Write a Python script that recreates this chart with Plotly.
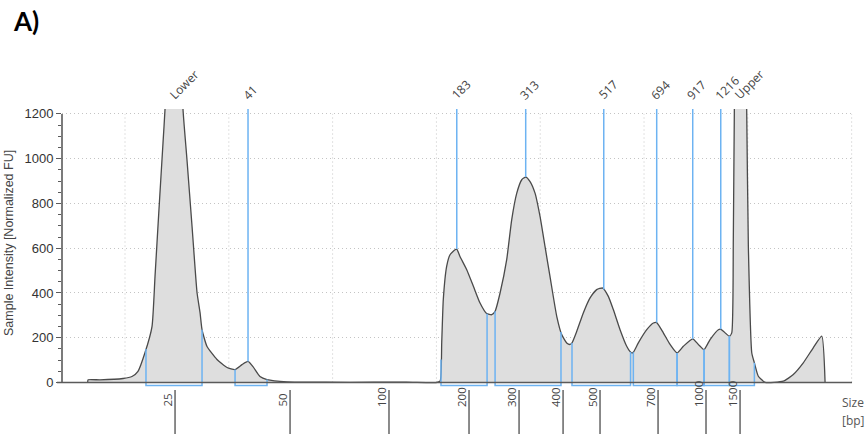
import numpy as np
import plotly.graph_objects as go

# ---- Electropherogram trace: migration distance (run units) vs. normalized fluorescence
migration = [
    6.40, 6.45, 7.59, 9.81, 10.67, 11.25, 11.93, 12.60, 12.89, 13.27, 13.66, 13.85,
    14.24, 14.72, 15.20, 15.59, 15.97, 16.46, 16.94, 17.23, 17.42, 17.90, 18.86, 19.83,
    20.60, 21.27, 21.85, 22.33, 23.00, 23.68, 25.61, 26.86, 31.68, 36.49, 37.74, 39.96,
    40.35, 40.51, 40.66, 40.99, 41.31, 41.79, 41.96, 42.27, 42.92, 43.56, 44.20, 44.84,
    45.33, 45.65, 46.13, 46.77, 47.25, 47.74, 48.22, 48.60, 49.02, 49.50, 49.98, 50.46,
    50.94, 51.59, 52.07, 52.55, 52.87, 53.06, 53.52, 54.15, 54.80, 55.44, 56.02, 56.56,
    57.04, 57.69, 58.33, 58.72, 58.85, 58.97, 59.45, 60.26, 60.90, 61.22, 61.86, 62.51,
    63.18, 63.79, 64.69, 65.23, 65.78, 66.36, 67.16, 67.39, 67.64, 68.22, 68.45, 68.60,
    68.70, 68.96, 69.25, 69.63, 69.89, 70.05, 70.38, 70.63, 71.01, 71.66, 73.42, 74.38,
    75.34, 76.30, 77.12, 77.44,
]
intensity = [
    0, 12, 12, 18, 27, 50, 134, 250, 473, 772, 1070, 1218,
    1700, 2100, 1700, 1218, 995, 696, 401, 312, 236, 161, 103, 67,
    58, 80, 94, 71, 27, 13, 3, 2, 1, 2, 1, 0,
    6, 178, 370, 520, 571, 593, 596, 563, 504, 430, 355, 308,
    303, 318, 400, 549, 727, 846, 906, 918, 898, 846, 742, 608,
    474, 296, 214, 177, 170, 177, 229, 311, 378, 415, 422, 385,
    326, 236, 162, 135, 132, 135, 177, 236, 266, 268, 222, 170,
    132, 162, 195, 170, 147, 192, 236, 238, 229, 207, 222, 638,
    1218, 2000, 2600, 2000, 1218, 608, 132, 88, 28, 1, 6, 36,
    88, 155, 207, 0,
]

# ---- Size ladder (bp) and the migration position of each ladder band
ladder_bp = [25, 50, 100, 200, 300, 400, 500, 700, 1000, 1500]
ladder_pos = [14.82, 25.90, 35.43, 43.14, 47.96, 52.20, 55.76, 61.35, 65.97, 69.25]

# ---- Called peaks: label and migration position
peak_labels = ["Lower", "41", "183", "313", "517", "694", "917", "1216", "Upper"]
peak_pos = [14.82, 21.85, 41.96, 48.60, 56.12, 61.22, 64.69, 67.39, 69.25]

# ---- Integration regions (start / end migration position)
region_start = [12.02, 20.60, 40.44, 45.65, 53.06, 58.97, 63.18, 65.78, 68.22]
region_end = [17.42, 23.68, 44.88, 52.00, 58.70, 63.18, 65.78, 68.22, 70.63]

# ---- Y axis ticks
y_ticks = [0, 200, 400, 600, 800, 1000, 1200]
grid_x = [10, 20, 30, 40, 50, 60, 70, 80]

# ---- Page geometry
W, H = 865, 434
M_L, M_R, M_T, M_B = 62, 12, 109, 47
X_RANGE = [3.93, 80.13]
Y_RANGE = [-20, 1222]
Y_TOP = Y_RANGE[1]
BRACKET_Y = -13

BLUE = "#6db3f2"
AXIS = "#5a5a5a"
GRID = "#c4c4c4"
TEXT = "#444444"
DOTS = "1px,3px"


def px_x(px):
    return (px - M_L) / (W - M_L - M_R)


def px_y(py):
    return (H - M_B - py) / (H - M_T - M_B)


mig = np.array(migration, dtype=float)
inten = np.array(intensity, dtype=float)


def level(pos):
    return float(np.interp(pos, mig, inten))


fig = go.Figure()

# filled electropherogram
fig.add_trace(go.Scatter(
    x=migration, y=intensity, mode="lines",
    line=dict(color="#4a4a4a", width=1.3, shape="spline", smoothing=0.5),
    fill="tozeroy", fillcolor="#dedede",
    hoverinfo="skip", showlegend=False,
))

# peak marker lines (from top of plot down to the trace)
mx, my = [], []
for p in peak_pos:
    mx += [p, p, None]
    my += [Y_TOP, min(level(p), Y_TOP), None]
fig.add_trace(go.Scatter(
    x=mx, y=my, mode="lines", line=dict(color=BLUE, width=1.5),
    hoverinfo="skip", showlegend=False,
))

# integration region brackets
bx, by = [], []
for s, e in zip(region_start, region_end):
    bx += [s, s, e, e, None]
    by += [min(level(s), Y_TOP), BRACKET_Y, BRACKET_Y, min(level(e), Y_TOP), None]
fig.add_trace(go.Scatter(
    x=bx, y=by, mode="lines", line=dict(color=BLUE, width=1.5),
    hoverinfo="skip", showlegend=False,
))

shapes = []
# vertical dotted grid
for gx in grid_x:
    shapes.append(dict(type="line", xref="x", yref="y", x0=gx, x1=gx, y0=0, y1=1200,
                       line=dict(color=GRID, width=1, dash=DOTS), layer="below"))
# axis lines
shapes.append(dict(type="line", xref="paper", yref="y", x0=px_x(57), x1=px_x(852), y0=0, y1=0,
                   line=dict(color=AXIS, width=1.6)))
shapes.append(dict(type="line", xref="paper", yref="y", x0=0, x1=0, y0=0, y1=1200,
                   line=dict(color=AXIS, width=1.6)))
# ladder tick marks hanging below the axis
for lp in ladder_pos:
    shapes.append(dict(type="line", xref="x", yref="paper", x0=lp, x1=lp,
                       y0=px_y(390), y1=px_y(436), line=dict(color=AXIS, width=1.4)))

annotations = []
# ladder size labels
for lp, bp in zip(ladder_pos, ladder_bp):
    annotations.append(dict(x=lp, xref="x", y=px_y(409), yref="paper", text=str(bp),
                            textangle=-90, xanchor="center", yanchor="bottom", xshift=-8,
                            showarrow=False, font=dict(family="Open Sans", size=11.5, color=TEXT)))
# peak labels
for p, lab in zip(peak_pos, peak_labels):
    annotations.append(dict(x=p, xref="x", y=px_y(106), yref="paper", text=lab,
                            textangle=-45, xanchor="left", yanchor="bottom", xshift=-12,
                            showarrow=False, font=dict(family="Open Sans", size=12, color=TEXT)))
# x axis caption
annotations.append(dict(x=px_x(853), xref="paper", y=px_y(402), yref="paper", text="Size",
                        xanchor="center", yanchor="middle", showarrow=False,
                        font=dict(family="Open Sans", size=12, color="#555555")))
annotations.append(dict(x=px_x(853), xref="paper", y=px_y(420), yref="paper", text="[bp]",
                        xanchor="center", yanchor="middle", showarrow=False,
                        font=dict(family="Open Sans", size=12, color="#555555")))
# y axis caption
annotations.append(dict(x=px_x(9), xref="paper", y=px_y(243), yref="paper",
                        text="Sample Intensity [Normalized FU]", textangle=-90,
                        xanchor="center", yanchor="middle", showarrow=False,
                        font=dict(family="Liberation Sans", size=12.5, color=TEXT)))
# panel tag
annotations.append(dict(x=px_x(11), xref="paper", y=px_y(3), yref="paper", text="<b>A)</b>",
                        xanchor="left", yanchor="top", showarrow=False,
                        font=dict(family="Lato", size=26, color="#000000")))

fig.update_layout(
    width=W, height=H,
    margin=dict(l=M_L, r=M_R, t=M_T, b=M_B, pad=0),
    paper_bgcolor="white", plot_bgcolor="white",
    shapes=shapes, annotations=annotations,
    xaxis=dict(range=X_RANGE, showgrid=False, zeroline=False, showticklabels=False,
               ticks="", showline=False, fixedrange=True),
    yaxis=dict(range=Y_RANGE, tickmode="array", tickvals=y_ticks, showgrid=True,
               gridcolor=GRID, griddash=DOTS, gridwidth=1, zeroline=False, showline=False,
               ticks="outside", ticklen=5, tickwidth=1.2, tickcolor=AXIS,
               tickfont=dict(family="Liberation Sans", size=13, color="#333333"),
               minor=dict(ticks="outside", ticklen=3, tickwidth=1, tickcolor=AXIS,
                          tick0=0, dtick=50, showgrid=False),
               fixedrange=True),
)

fig.write_html("out.html")
